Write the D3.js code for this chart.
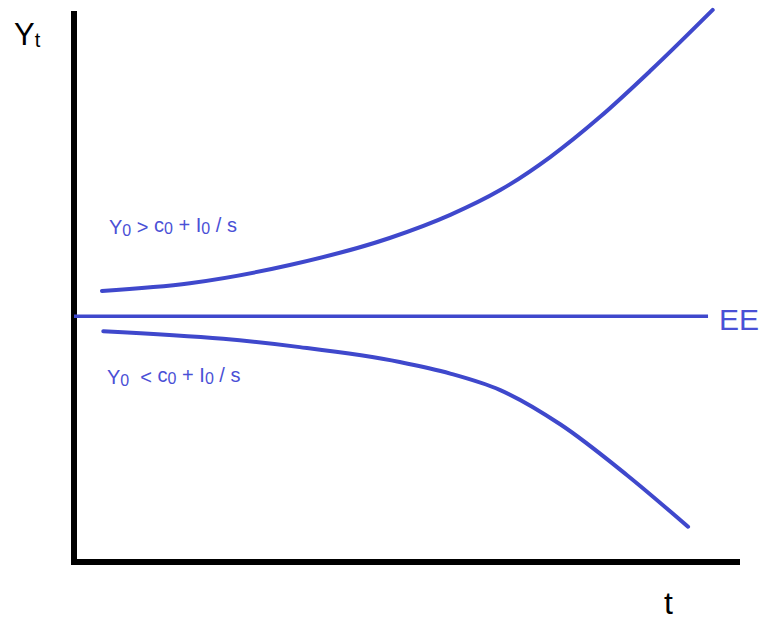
<!DOCTYPE html>
<html><head><meta charset="utf-8">
<script src="https://cdn.jsdelivr.net/npm/d3@7"></script>
<style>body{margin:0;background:#fff}svg{display:block}</style>
</head><body><svg id="c" width="763" height="621"></svg>
<script>
// data (abstract units: t 0..10, Y 0..10)
const upperT = [0.42,1.74,3.24,4.74,5.65,6.40,7.15,7.90,8.65,9.59];
const upperY = [4.92,5.06,5.39,5.88,6.30,6.75,7.35,8.08,8.91,10.02];
const lowerT = [0.44,2.24,3.39,4.89,5.65,6.40,7.30,8.30,9.22];
const lowerY = [4.19,4.05,3.90,3.63,3.42,3.12,2.50,1.58,0.64];
const eqT = [0, 9.52];
const eqY = 4.46;

const svg = d3.select("#c");
const x = d3.scaleLinear().domain([0,10]).range([74,740]);
const y = d3.scaleLinear().domain([0,10]).range([562,11]);
const blue = "#3f48cc";
const txtBlue = "#4a50d6";

const line = d3.line().x(d=>x(d[0])).y(d=>y(d[1])).curve(d3.curveMonotoneX);

// axes
svg.append("path").attr("d", `M${x(0)},${y(10)}V${y(0)}H${x(10)}`)
  .attr("fill","none").attr("stroke","#000").attr("stroke-width",6).attr("stroke-linejoin","miter");

// EE line
svg.append("line").attr("x1",x(eqT[0])).attr("x2",x(eqT[1])).attr("y1",y(eqY)).attr("y2",y(eqY))
  .attr("stroke",blue).attr("stroke-width",3.5);

svg.append("path").datum(upperT.map((t,i)=>[t,upperY[i]])).attr("d",line)
  .attr("fill","none").attr("stroke",blue).attr("stroke-width",4).attr("stroke-linecap","round");
svg.append("path").datum(lowerT.map((t,i)=>[t,lowerY[i]])).attr("d",line)
  .attr("fill","none").attr("stroke",blue).attr("stroke-width",4).attr("stroke-linecap","round");

const font = "Liberation Sans, Arial, sans-serif";
// Yt
const yt = svg.append("text").attr("x",14).attr("y",45).attr("font-family",font).attr("font-size",31).attr("fill","#000");
yt.append("tspan").text("Y");
yt.append("tspan").attr("font-size",20).attr("dy",2).text("t");

// t
svg.append("text").attr("x",664).attr("y",614).attr("font-family",font).attr("font-size",32).attr("fill","#000").text("t");

// EE
svg.append("text").attr("x",719).attr("y",330).attr("font-family",font).attr("font-size",30).attr("fill",txtBlue).text("EE");

function eqLabel(xp, yp, rel){
  const t = svg.append("text").attr("x",xp).attr("y",yp).attr("font-family",font).attr("font-size",20)
    .attr("fill",txtBlue).style("white-space","pre");
  const parts = [["Y",0],["0",1],[rel,0],["c",0],["0",1],[" + I",0],["0",1],[" / s",0]];
  parts.forEach(([s,sub],i)=>{
    t.append("tspan").attr("font-size", sub?16:20).attr("dy", sub?2:(i? -2:0)).text(s);
  });
  return t;
}
eqLabel(109, 234, " > ");
eqLabel(107, 384, "\u00a0\u00a0< ");
</script></body></html>
